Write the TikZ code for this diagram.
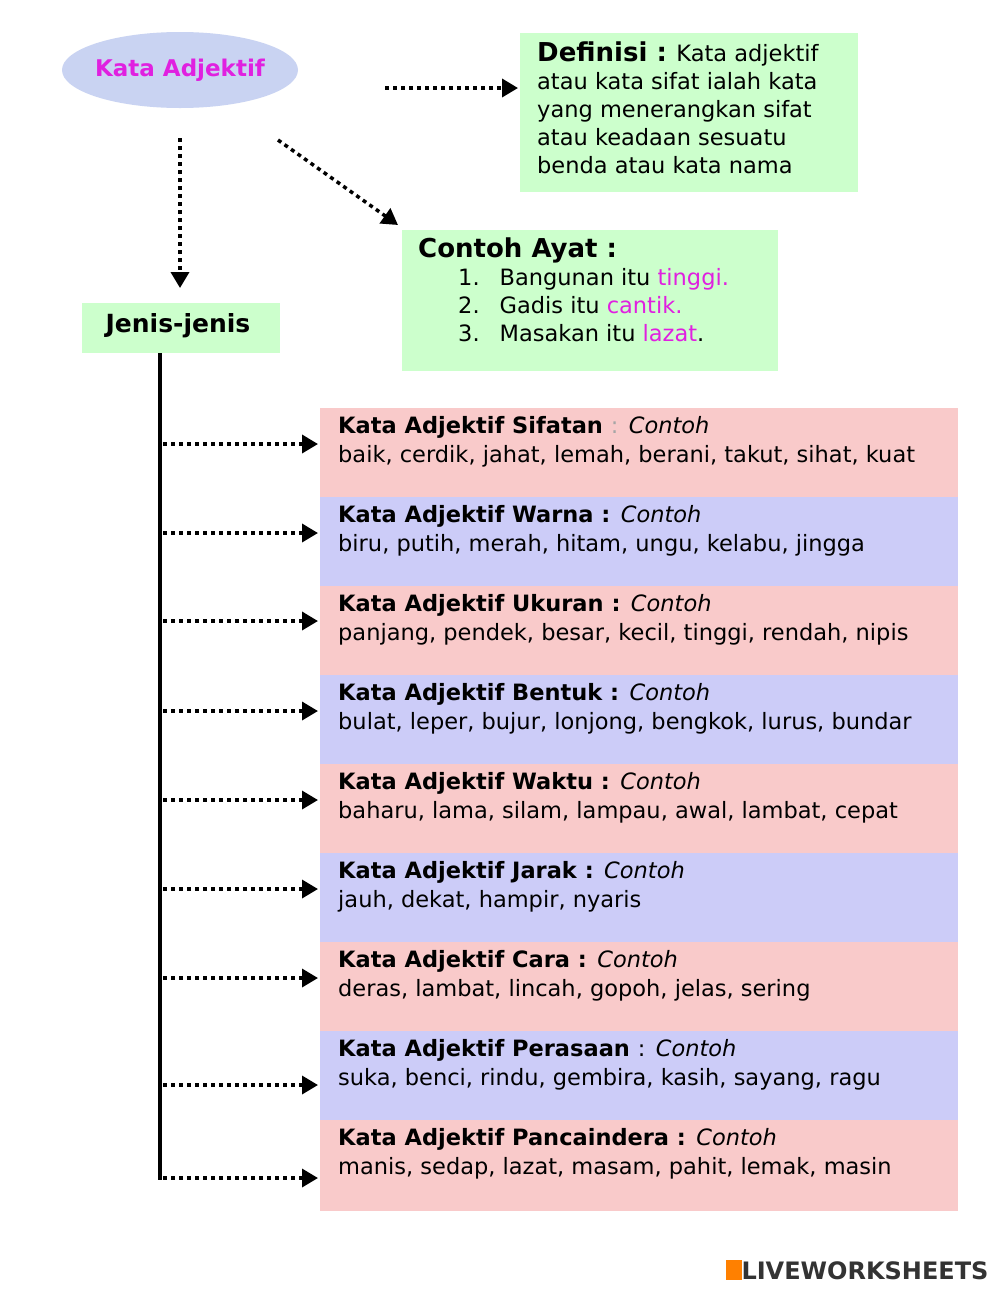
\documentclass[tikz,border=0pt]{standalone}
\usepackage{fontspec}
\setmainfont{DejaVu Sans}
\usetikzlibrary{arrows.meta,shapes.geometric}
\definecolor{pinkb}{HTML}{F9CACA}
\definecolor{lavb}{HTML}{CCCCF8}
\definecolor{greenb}{HTML}{CCFFCC}
\definecolor{ellb}{HTML}{C9D3F2}
\definecolor{mag}{HTML}{E020E0}
\tikzset{
 dotarrow/.style={line width=3.5pt,dash pattern=on 4pt off 4pt,-{Triangle[length=16pt,width=18pt]}},
 txt/.style={anchor=north west,inner sep=0pt,align=left,font=\fontsize{22.5}{28}\selectfont},
 bodytxt/.style={anchor=north west,inner sep=0pt,align=left,font=\fontsize{22.5}{29}\selectfont},
}
\begin{document}
\begin{tikzpicture}[x=1pt,y=-1pt]
\useasboundingbox (0,0) rectangle (1000,1291);
\fill[white] (0,0) rectangle (1000,1291);
\fill[ellb] (180,70) ellipse [x radius=118, y radius=38];
\node[font=\fontsize{23}{26}\selectfont\bfseries,text=mag] (ka) at (180,70) {Kata Adjektif};
\fill[greenb] (520,33) rectangle (858,192);
\node[txt] (def) at (537,42) {{\fontsize{26}{28}\selectfont\bfseries Definisi :} Kata adjektif\\atau kata sifat ialah kata\\yang menerangkan sifat\\atau keadaan sesuatu\\benda atau kata nama};
\coordinate (defl) at (518,88);
\fill[greenb] (402,230) rectangle (778,371);
\node[txt] (ca) at (418,238) {{\fontsize{26}{28}\selectfont\bfseries Contoh Ayat :}\\
\hspace*{40pt}1.\hspace{20pt}Bangunan itu \textcolor{mag}{tinggi.}\\
\hspace*{40pt}2.\hspace{20pt}Gadis itu \textcolor{mag}{cantik.}\\
\hspace*{40pt}3.\hspace{20pt}Masakan itu \textcolor{mag}{lazat}.};
\coordinate (cal) at (398,225);
\fill[greenb] (82,303) rectangle (280,353);
\node[font=\fontsize{25}{28}\selectfont\bfseries] (jj) at (178,326) {Jenis-jenis};
\coordinate (jjt) at (180,288);
\draw[dotarrow] (385,88) -- (defl);
\draw[dotarrow] (180,138) -- (jjt);
\draw[dotarrow] (278,140) -- (cal);
\coordinate (vtop) at (160,353);
\coordinate (vbot) at (160,1180);
\draw[line width=4pt] (vtop) -- (vbot);
\foreach \i/\c/\t/\w/\ay in {
0/pinkb/{Kata Adjektif Sifatan {\mdseries\textcolor{gray!70}{:}} \textit{\mdseries Contoh}}/{baik, cerdik, jahat, lemah, berani, takut, sihat, kuat}/444,
1/lavb/{Kata Adjektif Warna : \textit{\mdseries Contoh}}/{biru, putih, merah, hitam, ungu, kelabu, jingga}/533,
2/pinkb/{Kata Adjektif Ukuran : \textit{\mdseries Contoh}}/{panjang, pendek, besar, kecil, tinggi, rendah, nipis}/621,
3/lavb/{Kata Adjektif Bentuk : \textit{\mdseries Contoh}}/{bulat, leper, bujur, lonjong, bengkok, lurus, bundar}/711,
4/pinkb/{Kata Adjektif Waktu : \textit{\mdseries Contoh}}/{baharu, lama, silam, lampau, awal, lambat, cepat}/800,
5/lavb/{Kata Adjektif Jarak : \textit{\mdseries Contoh}}/{jauh, dekat, hampir, nyaris}/889,
6/pinkb/{Kata Adjektif Cara : \textit{\mdseries Contoh}}/{deras, lambat, lincah, gopoh, jelas, sering}/978,
7/lavb/{Kata Adjektif Perasaan {\mdseries :} \textit{\mdseries Contoh}}/{suka, benci, rindu, gembira, kasih, sayang, ragu}/1085,
8/pinkb/{Kata Adjektif Pancaindera : \textit{\mdseries Contoh}}/{manis, sedap, lazat, masam, pahit, lemak, masin}/1178}{
 \fill[\c] (320,408+89*\i) rectangle (958,497+89*\i+\ifnum\i=8 2\else0\fi);
 \node[bodytxt] (r\i) at (338,416+89*\i) {{\bfseries \t}\\\w};
 \coordinate (a\i) at (318,\ay);
 \coordinate (s\i) at (163,\ay);
 \draw[dotarrow] (s\i) -- (a\i);
}
\node[anchor=east,font=\fontsize{24}{26}\selectfont\bfseries,text=black!80] (logo) at (992,1270) {\textcolor{orange}{\rule{16pt}{20pt}}LIVEWORKSHEETS};
\end{tikzpicture}
\end{document}
